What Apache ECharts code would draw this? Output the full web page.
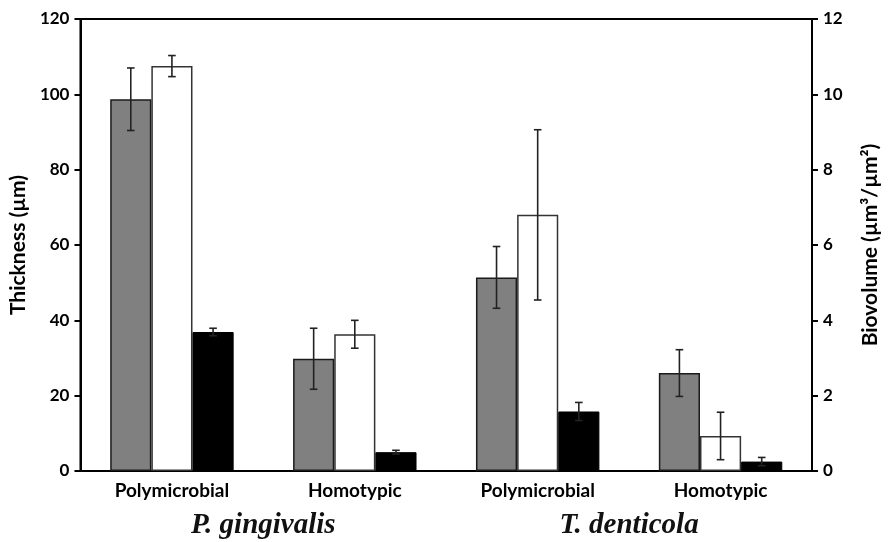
<!DOCTYPE html>
<html>
<head>
<meta charset="utf-8">
<script src="https://cdn.jsdelivr.net/npm/echarts@6/dist/echarts.min.js"></script>
<style>html,body{margin:0;padding:0;background:#fff}#c{width:889px;height:542px}</style>
</head>
<body>
<div id="c"></div>
<script>
// ---- data ----
const categories = ['Polymicrobial', 'Homotypic', 'Polymicrobial', 'Homotypic'];
const species = ['P. gingivalis', 'T. denticola'];
const leftTicks = [0, 20, 40, 60, 80, 100, 120];
const rightTicks = [0, 2, 4, 6, 8, 10, 12];
// gray bars: thickness (µm), left axis
const grayValues = [98.7, 29.8, 51.4, 26.0];
const grayErrors = [8.3, 8.1, 8.2, 6.2];
// white bars: biovolume, right axis
const whiteValues = [10.75, 3.63, 6.80, 0.93];
const whiteErrors = [0.28, 0.37, 2.26, 0.63];
// black bars: biovolume, right axis
const blackValues = [3.69, 0.50, 1.58, 0.25];
const blackErrors = [0.10, 0.05, 0.24, 0.11];

const BAR_FRAC = 0.225;

function errData(vals, errs) {
  return vals.map((v, i) => [i, v, errs[i]]);
}
function errSeries(vals, errs, yIdx, offset) {
  return {
    type: 'custom',
    xAxisIndex: 0,
    yAxisIndex: yIdx,
    z: 10,
    silent: true,
    data: errData(vals, errs),
    renderItem: function (params, api) {
      const i = api.value(0), v = api.value(1), e = api.value(2);
      const band = api.size([1, 0])[0];
      const c = api.coord([i, v]);
      const x = c[0] + offset * band * BAR_FRAC;
      const yt = api.coord([i, v + e])[1];
      const yb = api.coord([i, v - e])[1];
      const cap = 3.8;
      const st = { stroke: '#222', lineWidth: 1.6 };
      return {
        type: 'group',
        children: [
          { type: 'line', shape: { x1: x, y1: yt, x2: x, y2: yb }, style: st },
          { type: 'line', shape: { x1: x - cap, y1: yt, x2: x + cap, y2: yt }, style: st },
          { type: 'line', shape: { x1: x - cap, y1: yb, x2: x + cap, y2: yb }, style: st }
        ]
      };
    }
  };
}

const axisFont = { fontFamily: 'Lato', fontWeight: 'bold', color: '#000' };
const nameFont = { fontFamily: 'Lato', fontWeight: 'bold', fontSize: 21, color: '#000' };
const chart = echarts.init(document.getElementById('c'));
chart.setOption({
  animation: false,
  backgroundColor: '#fff',
  grid: { left: 79, right: 76, top: 19, bottom: 71, show: true, borderColor: '#000', borderWidth: 2, backgroundColor: 'transparent' },
  xAxis: [
    {
      type: 'category', data: categories, gridIndex: 0,
      axisLine: { lineStyle: { color: '#000', width: 2 } },
      axisTick: { show: false },
      axisLabel: Object.assign({ fontSize: 19, margin: 10 }, axisFont)
    },
    {
      type: 'category', data: species, gridIndex: 0, position: 'bottom', offset: 32,
      axisLine: { show: false }, axisTick: { show: false },
      axisLabel: { fontFamily: 'Liberation Serif', fontStyle: 'italic', fontWeight: 'bold', fontSize: 29, color: '#111', margin: 8 }
    }
  ],
  yAxis: [
    {
      type: 'value', min: leftTicks[0], max: leftTicks[leftTicks.length - 1], interval: leftTicks[1] - leftTicks[0],
      position: 'left',
      name: 'Thickness (µm)', nameLocation: 'middle', nameRotate: 90, nameGap: 49,
      nameTextStyle: nameFont,
      axisLine: { show: true, lineStyle: { color: '#000', width: 2 } },
      axisTick: { show: true, length: 6, lineStyle: { color: '#000', width: 2 } },
      axisLabel: Object.assign({ fontSize: 17, margin: 11 }, axisFont),
      splitLine: { show: false }
    },
    {
      type: 'value', min: rightTicks[0], max: rightTicks[rightTicks.length - 1], interval: rightTicks[1] - rightTicks[0],
      position: 'right',
      name: 'Biovolume (µm³/µm²)', nameLocation: 'middle', nameRotate: 90, nameGap: 48,
      nameTextStyle: nameFont,
      axisLine: { show: true, lineStyle: { color: '#000', width: 2 } },
      axisTick: { show: true, length: 6, lineStyle: { color: '#000', width: 2 } },
      axisLabel: Object.assign({ fontSize: 17, margin: 11 }, axisFont),
      splitLine: { show: false }
    }
  ],
  series: [
    {
      name: 'Thickness', type: 'bar', xAxisIndex: 0, yAxisIndex: 0, data: grayValues,
      barWidth: (BAR_FRAC * 100) + '%', barGap: '0%',
      itemStyle: { color: '#808080', borderColor: '#1a1a1a', borderWidth: 1.5 }
    },
    {
      name: 'Biovolume A', type: 'bar', xAxisIndex: 0, yAxisIndex: 1, data: whiteValues,
      barWidth: (BAR_FRAC * 100) + '%', barGap: '0%',
      itemStyle: { color: '#ffffff', borderColor: '#333', borderWidth: 1.5 }
    },
    {
      name: 'Biovolume B', type: 'bar', xAxisIndex: 0, yAxisIndex: 1, data: blackValues,
      barWidth: (BAR_FRAC * 100) + '%', barGap: '0%',
      itemStyle: { color: '#000000', borderColor: '#000', borderWidth: 1 }
    },
    errSeries(grayValues, grayErrors, 0, -1),
    errSeries(whiteValues, whiteErrors, 1, 0),
    errSeries(blackValues, blackErrors, 1, 1)
  ]
});
</script>
</body>
</html>
